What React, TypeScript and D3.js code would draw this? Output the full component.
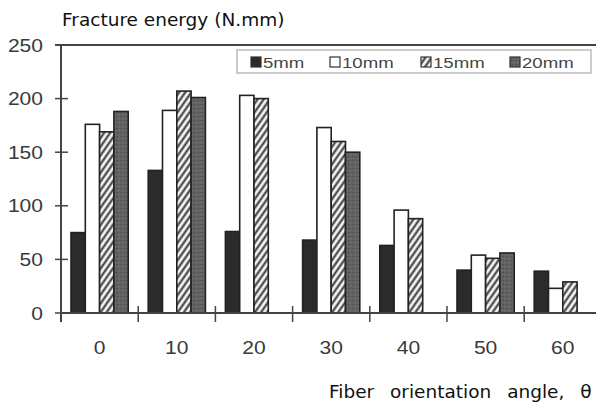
import React from "react";
import * as d3 from "d3";

const categories = ["0", "10", "20", "30", "40", "50", "60"];
const seriesNames = ["5mm", "10mm", "15mm", "20mm"];
const values5mm = [75, 133, 76, 68, 63, 40, 39];
const values10mm = [176, 189, 203, 173, 96, 54, 23];
const values15mm = [169, 207, 200, 160, 88, 51, 29];
const values20mm: (number | null)[] = [188, 201, null, 150, null, 56, null];
const yTicks = [0, 50, 100, 150, 200, 250];
const title = "Fracture energy (N.mm)";
const xTitle = "Fiber orientation angle, θ";

const W = 596;
const H = 405;
const left = 61;
const top = 45;
const bottom = 313;
const step = 77.2;

export default function App() {
  const seriesValues: (number | null)[][] = [values5mm, values10mm, values15mm, values20mm];
  const x0 = d3
    .scaleBand<string>()
    .domain(categories)
    .range([left, left + step * categories.length])
    .padding(0);
  const x1 = d3
    .scaleBand<string>()
    .domain(seriesNames)
    .range([10, x0.bandwidth() - 10])
    .padding(0);
  const y = d3.scaleLinear().domain([0, 250]).range([bottom, top]);

  const fills: Record<string, string> = {
    "5mm": "#2b2b2b",
    "10mm": "#ffffff",
    "15mm": "url(#hatch)",
    "20mm": "url(#speckle)",
  };

  const boundaries = d3.range(categories.length + 1).map((i) => left + i * x0.step());
  const tickFont = "'Liberation Sans', Arial, sans-serif";
  const titleFont = "'DejaVu Sans', Verdana, sans-serif";

  const legendX = [251, 330, 421, 510];

  return (
    <div style={{ position: "absolute", left: 0, top: 0 }}>
      <svg width={W} height={H} style={{ display: "block", background: "#fff" }}>
        <defs>
          <pattern id="hatch" width="5" height="5" patternUnits="userSpaceOnUse" patternTransform="rotate(35)">
            <rect width="5" height="5" fill="#f4f4f4" />
            <line x1="1.5" y1="0" x2="1.5" y2="5" stroke="#333" strokeWidth="2" />
          </pattern>
          <pattern id="speckle" width="4" height="4" patternUnits="userSpaceOnUse">
            <rect width="4" height="4" fill="#626262" />
            <rect x="0" y="0" width="1" height="1" fill="#4e4e4e" />
            <rect x="2" y="2" width="1" height="1" fill="#747474" />
            <rect x="3" y="0" width="1" height="1" fill="#555" />
            <rect x="1" y="3" width="1" height="1" fill="#6e6e6e" />
          </pattern>
        </defs>

        {/* Title */}
        <text x={62} y={26} fontFamily={titleFont} fontSize={18.5} fill="#111">
          {title}
        </text>

        {/* Bars */}
        {categories.map((c, ci) => (
          <g key={c} transform={`translate(${x0(c)},0)`}>
            {seriesNames.map((s, si) => {
              const v = seriesValues[si][ci];
              if (v == null) return null;
              return (
                <rect
                  key={s}
                  x={x1(s)}
                  y={y(v)}
                  width={x1.bandwidth()}
                  height={y(0) - y(v)}
                  fill={fills[s]}
                  stroke="#222"
                  strokeWidth={1.6}
                />
              );
            })}
          </g>
        ))}

        {/* Top frame line */}
        <line x1={55} x2={W} y1={top} y2={top} stroke="#444" strokeWidth={2} />

        {/* Y axis */}
        <line x1={left} x2={left} y1={top} y2={322} stroke="#444" strokeWidth={2} />
        {yTicks.map((t) => (
          <g key={t}>
            <line x1={55} x2={68} y1={y(t)} y2={y(t)} stroke="#444" strokeWidth={1.5} />
            <text
              transform={`translate(43,${y(t) + 6.5}) scale(1.17,1)`}
              textAnchor="end"
              fontFamily={tickFont}
              fontSize={18}
              fill="#3a3a3a"
            >
              {t}
            </text>
          </g>
        ))}

        {/* X axis */}
        <line x1={left} x2={W} y1={bottom} y2={bottom} stroke="#444" strokeWidth={2} />
        {boundaries.map((b, i) => (
          <line key={i} x1={b} x2={b} y1={306} y2={322} stroke="#444" strokeWidth={1.5} />
        ))}
        {categories.map((c) => (
          <text
            key={c}
            transform={`translate(${(x0(c) as number) + x0.bandwidth() / 2},354) scale(1.17,1)`}
            textAnchor="middle"
            fontFamily={tickFont}
            fontSize={18}
            fill="#3a3a3a"
          >
            {c}
          </text>
        ))}

        {/* X title */}
        <text x={329} y={398} fontFamily={titleFont} fontSize={18.5} fill="#111" wordSpacing={10}>
          {xTitle}
        </text>

        {/* Legend */}
        <rect x={237} y={50} width={354} height={23} fill="#fff" stroke="#bbb" strokeWidth={1.5} />
        {seriesNames.map((s, i) => (
          <g key={s}>
            <rect
              x={legendX[i]}
              y={57}
              width={10}
              height={10}
              fill={fills[s]}
              stroke="#333"
              strokeWidth={1.2}
            />
            <text
              transform={`translate(${legendX[i] + 12},68) scale(1.2,1)`}
              fontFamily={tickFont}
              fontSize={15.5}
              fill="#444"
            >
              {s}
            </text>
          </g>
        ))}
      </svg>
    </div>
  );
}
